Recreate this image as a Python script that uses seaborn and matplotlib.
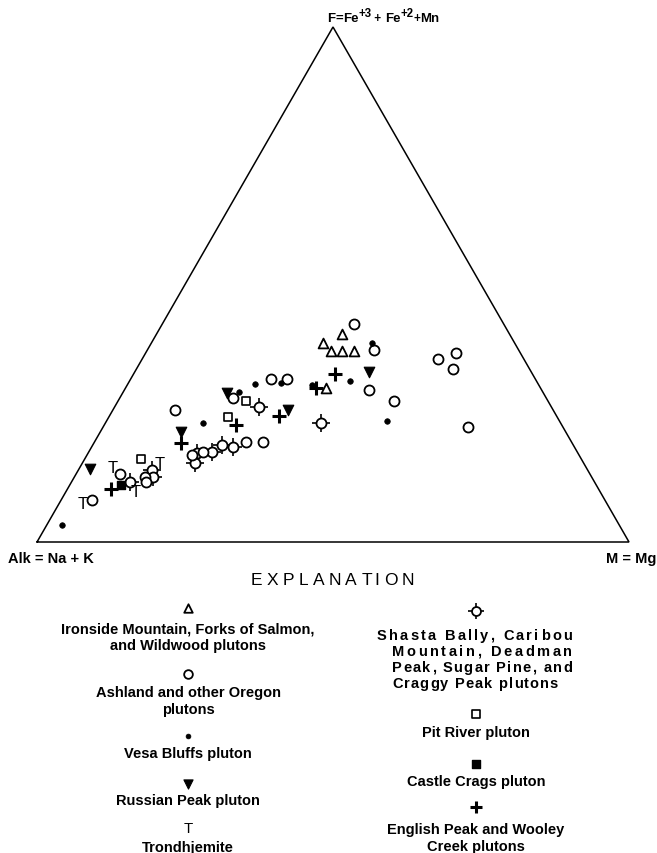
import numpy as np
import pandas as pd
import matplotlib
matplotlib.use("Agg")
import matplotlib.pyplot as plt
import seaborn as sns

sns.set_theme(style="white")
plt.rcParams["font.family"] = ["Liberation Sans", "DejaVu Sans"]

# Ternary compositions in percent: F = Fe+3 + Fe+2 + Mn, M = Mg (Alk = 100 - F - M)
ironside_F = [40.4, 38.6, 37.0, 37.0, 37.0, 30.0]
ironside_M = [31.3, 29.0, 31.2, 33.0, 35.1, 33.9]

ashland_F = [8.2, 13.2, 12.7, 11.6, 25.6, 16.8, 17.4, 19.5, 19.4, 27.9,
             31.7, 31.7, 42.3, 37.3, 29.5, 27.3, 35.5, 36.7, 33.6, 22.3]
ashland_M = [5.2, 7.4, 11.9, 12.6, 10.5, 17.7, 19.3, 25.6, 28.5, 19.2,
             23.7, 26.4, 32.4, 38.3, 41.3, 46.7, 50.0, 52.5, 53.4, 61.6]

vesa_F = [3.3, 23.1, 29.1, 30.6, 30.9, 38.6, 30.5, 31.3, 23.4]
vesa_M = [2.6, 16.5, 19.5, 21.5, 25.7, 37.3, 31.2, 37.3, 47.4]

russian_F = [14.2, 21.4, 28.9, 25.6, 33.0]
russian_M = [1.9, 13.7, 17.6, 29.6, 39.5]

trond_F = [7.4, 14.5, 9.8, 15.3]
trond_M = [4.1, 5.5, 11.8, 13.1]

shasta_F = [11.7, 14.0, 12.6, 17.3, 15.3, 17.4, 18.8, 18.4, 26.3, 23.1]
shasta_M = [9.9, 12.5, 13.3, 18.3, 19.1, 20.9, 21.9, 23.9, 24.3, 36.4]

pit_F = [16.2, 24.3, 27.4]
pit_M = [9.4, 20.1, 21.6]

castle_F = [11.1]
castle_M = [8.7]

english_F = [10.2, 19.2, 22.7, 24.5, 32.6, 30.0]
english_M = [7.4, 14.8, 22.3, 28.7, 34.1, 32.2]

H = np.sqrt(3) / 2


def to_xy(F, M):
    F = np.asarray(F) / 100.0
    M = np.asarray(M) / 100.0
    return M + F / 2, F * H


W_PX, H_PX = 657, 854
fig = plt.figure(figsize=(W_PX / 100, H_PX / 100), dpi=100)
ax = fig.add_axes([0, 0, 1, 1])

# pixel geometry of the triangle on the page
X0, XSPAN = 37, 592
Y0, YSPAN = 543, 515
sy = YSPAN / H
ax.set_xlim(-X0 / XSPAN, (W_PX - X0) / XSPAN)
ax.set_ylim(-(H_PX - Y0) / sy, Y0 / sy)
ax.axis("off")


def px(xp, yp):
    return (xp - X0) / XSPAN, (Y0 - yp) / sy


def fx(xp):
    return xp / W_PX


def fy(yp):
    return 1 - yp / H_PX


# triangle outline
ax.plot([0, 1, 0.5, 0], [0, 0, H, 0], color="black", lw=1.1, solid_joinstyle="miter")

groups = [
    ("shasta", shasta_F, shasta_M),
    ("ironside", ironside_F, ironside_M),
    ("ashland", ashland_F, ashland_M),
    ("vesa", vesa_F, vesa_M),
    ("russian", russian_F, russian_M),
    ("trond", trond_F, trond_M),
    ("pit", pit_F, pit_M),
    ("castle", castle_F, castle_M),
    ("english", english_F, english_M),
]

styles = {
    "ironside": dict(marker="^", s=50, facecolor="white", edgecolor="black", linewidth=1.3),
    "ashland": dict(marker="o", s=52, facecolor="white", edgecolor="black", linewidth=1.3),
    "vesa": dict(marker="o", s=16, facecolor="black", edgecolor="black", linewidth=0.5),
    "russian": dict(marker="v", s=58, facecolor="black", edgecolor="black", linewidth=0.8),
    "pit": dict(marker="s", s=40, facecolor="white", edgecolor="black", linewidth=1.2),
    "castle": dict(marker="s", s=40, facecolor="black", edgecolor="black", linewidth=1.0),
}


def draw_symbol(kind, x, y, scale=1.0):
    """Draw one set of symbols at data coordinates x, y."""
    df = pd.DataFrame({"x": np.atleast_1d(x), "y": np.atleast_1d(y)})
    if kind == "shasta":
        sns.scatterplot(data=df, x="x", y="y", ax=ax, marker="+", s=160 * scale,
                        color="black", linewidth=1.2, zorder=3, legend=False)
        sns.scatterplot(data=df, x="x", y="y", ax=ax, marker="o", s=52 * scale,
                        facecolor="white", edgecolor="black", linewidth=1.3,
                        zorder=4, legend=False)
    elif kind == "english":
        sns.scatterplot(data=df, x="x", y="y", ax=ax, marker="+", s=100 * scale,
                        color="black", linewidth=2.2, zorder=4, legend=False)
    elif kind == "trond":
        # trondhjemite samples are plotted with the letter T
        for xi, yi in zip(df["x"], df["y"]):
            ax.text(xi, yi, "T", fontsize=12 * scale, ha="center", va="center",
                    color="black", zorder=4)
    else:
        st = dict(styles[kind])
        st["s"] = st["s"] * scale
        sns.scatterplot(data=df, x="x", y="y", ax=ax, zorder=4, legend=False, **st)


for name, F, M in groups:
    x, y = to_xy(F, M)
    draw_symbol(name, x, y)

renderer = fig.canvas.get_renderer()


def text_width(s, fs, weight):
    t = fig.text(0, 0, s, fontsize=fs, fontweight=weight)
    w = t.get_window_extent(renderer).width
    t.remove()
    return w


def char_width(ch, fs, weight):
    return text_width("a" + ch + "a", fs, weight) - text_width("aa", fs, weight)


def spread_text(s, x_left, x_right, yp, fs, weight="bold"):
    """Write s with its letters spread evenly from x_left to x_right (pixels)."""
    widths = [char_width(ch, fs, weight) for ch in s]
    extra = (x_right - x_left - sum(widths)) / (len(s) - 1)
    xp = x_left
    for ch, w in zip(s, widths):
        if ch != " ":
            fig.text(fx(xp), fy(yp), ch, fontsize=fs, fontweight=weight,
                     ha="left", va="baseline", color="black")
        xp += w + extra


def run_text(parts, x_left, y_base, weight="bold"):
    """Write consecutive text pieces (text, fontsize, raise_px) on one baseline."""
    xp = x_left
    for s, fs, rise in parts:
        fig.text(fx(xp), fy(y_base - rise), s, fontsize=fs, fontweight=weight,
                 ha="left", va="baseline", color="black")
        xp += sum(char_width(ch, fs, weight) for ch in s)


# vertex labels
run_text([("F", 9.5, 0), ("=", 9.5, 0), ("Fe", 9.5, 0), ("+3", 8.3, 5),
          (" + ", 8.5, 0), ("Fe", 9.5, 0), ("+2", 8.3, 5), ("+", 8.5, 0),
          ("Mn", 9.5, 0)], 327, 22)
fig.text(fx(8), fy(559), "Alk = Na + K", fontsize=10.5,
         ha="left", va="center", fontweight="bold", color="black")
fig.text(fx(656), fy(559), "M = Mg", fontsize=10.5,
         ha="right", va="center", fontweight="bold", color="black")
spread_text("EXPLANATION", 251, 414, 585, 12.5, weight="normal")

# explanation key, left column
key_fs = 10.5
lx = 188
left_items = [
    ("ironside", 609, ["Ironside Mountain, Forks of Salmon,", "and Wildwood plutons"], 629),
    ("ashland", 675, ["Ashland and other Oregon", "plutons"], 693),
    ("vesa", 737, ["Vesa Bluffs pluton"], 754),
    ("russian", 785, ["Russian Peak pluton"], 801),
    ("trond", 829, ["Trondhjemite"], 848),
]
for kind, ym, lines, yt in left_items:
    mx, my = px(lx, ym)
    draw_symbol(kind, mx, my, scale=0.75 if kind != "trond" else 0.9)
    for i, line in enumerate(lines):
        fig.text(fx(lx), fy(yt + 17.5 * i), line, fontsize=key_fs,
                 ha="center", va="center", fontweight="bold", color="black")

# explanation key, right column
rx = 476
mx, my = px(rx, 612)
draw_symbol("shasta", mx, my, scale=0.8)
shasta_lines = [("Shasta Bally, Caribou", 377, 572, 640),
                ("Mountain, Deadman", 392, 572, 656),
                ("Peak, Sugar Pine, and", 392, 572, 672),
                ("Craggy Peak plutons", 392, 558, 688)]
for text, xl, xr, yt in shasta_lines:
    spread_text(text, xl, xr, yt, key_fs)

right_items = [
    ("pit", 715, ["Pit River pluton"], 733),
    ("castle", 765, ["Castle Crags pluton"], 782),
    ("english", 808, ["English Peak and Wooley", "Creek plutons"], 830),
]
for kind, ym, lines, yt in right_items:
    mx, my = px(rx, ym)
    draw_symbol(kind, mx, my, scale=0.75)
    for i, line in enumerate(lines):
        fig.text(fx(rx), fy(yt + 17.5 * i), line, fontsize=key_fs,
                 ha="center", va="center", fontweight="bold", color="black")

fig.savefig("out.png", dpi=100, facecolor="white")
